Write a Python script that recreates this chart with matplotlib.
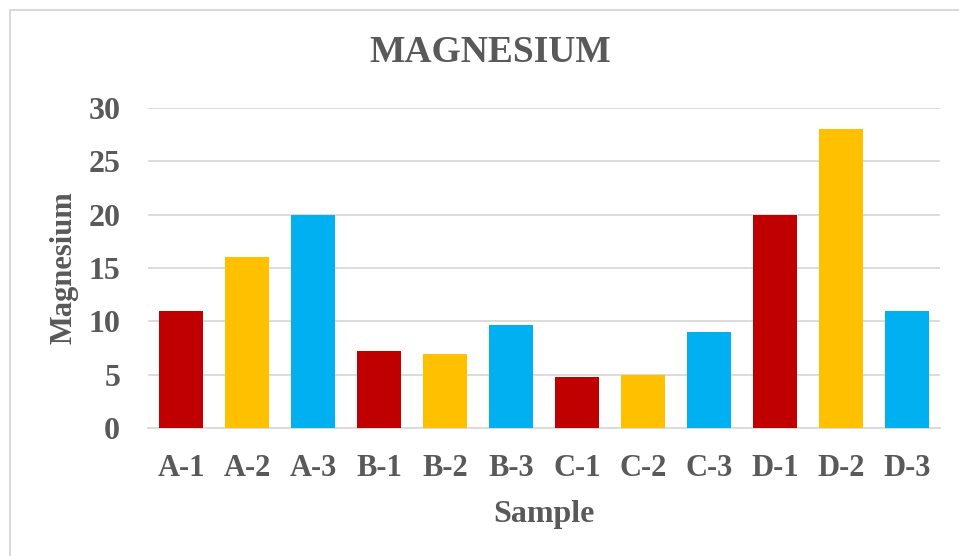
import matplotlib
matplotlib.use("Agg")
import matplotlib.pyplot as plt
from matplotlib.lines import Line2D

# data
samples = ['A-1', 'A-2', 'A-3', 'B-1', 'B-2', 'B-3',
           'C-1', 'C-2', 'C-3', 'D-1', 'D-2', 'D-3']
magnesium = [11, 16, 20, 7.2, 6.9, 9.7, 4.8, 5, 9, 20, 28, 11]
bar_colors = ['#C00000', '#FFC000', '#00B0F0'] * 4
y_ticks = [0, 5, 10, 15, 20, 25, 30]

text_color = '#595959'
grid_color = '#D9D9D9'
plt.rcParams['font.family'] = ['Liberation Serif', 'DejaVu Serif']
plt.rcParams['font.weight'] = 'bold'

fig = plt.figure(figsize=(9.59, 5.56), dpi=100)
ax = fig.add_axes([148 / 959, 1 - 428 / 556, 792 / 959, 320 / 556])

x = list(range(len(samples)))
ax.bar(x, magnesium, width=0.68, color=bar_colors, zorder=3)

ax.set_xlim(-0.5, len(samples) - 0.5)
ax.set_ylim(0, 30)
ax.set_yticks(y_ticks)
ax.set_yticklabels([str(t) for t in y_ticks], fontsize=23, fontweight='bold', color=text_color)
ax.set_xticks(x)
ax.set_xticklabels(samples, fontsize=22, fontweight='bold', color=text_color)
ax.tick_params(axis='both', length=0)
ax.tick_params(axis='y', pad=20)
ax.tick_params(axis='x', pad=19)

ax.grid(axis='y', color=grid_color, linewidth=1.3, zorder=0)
for side in ['top', 'right', 'left']:
    ax.spines[side].set_visible(False)
ax.spines['bottom'].set_color(grid_color)
ax.spines['bottom'].set_linewidth(1.3)

ax.set_xlabel('Sample', fontsize=23, fontweight='bold', color=text_color, labelpad=12)
ax.set_ylabel('Magnesium', fontsize=22, fontweight='bold', color=text_color, labelpad=7)
fig.text(0.511, 1 - 52 / 556, 'MAGNESIUM', ha='center', va='center',
         fontsize=27, fontweight='bold', color=text_color)

# chart area border (top and left edges visible)
fig.add_artist(Line2D([9.5 / 959, 9.5 / 959, 1], [0, 1 - 9.5 / 556, 1 - 9.5 / 556],
                      transform=fig.transFigure, color=grid_color, linewidth=1.5))

fig.savefig('out.png', dpi=100)
